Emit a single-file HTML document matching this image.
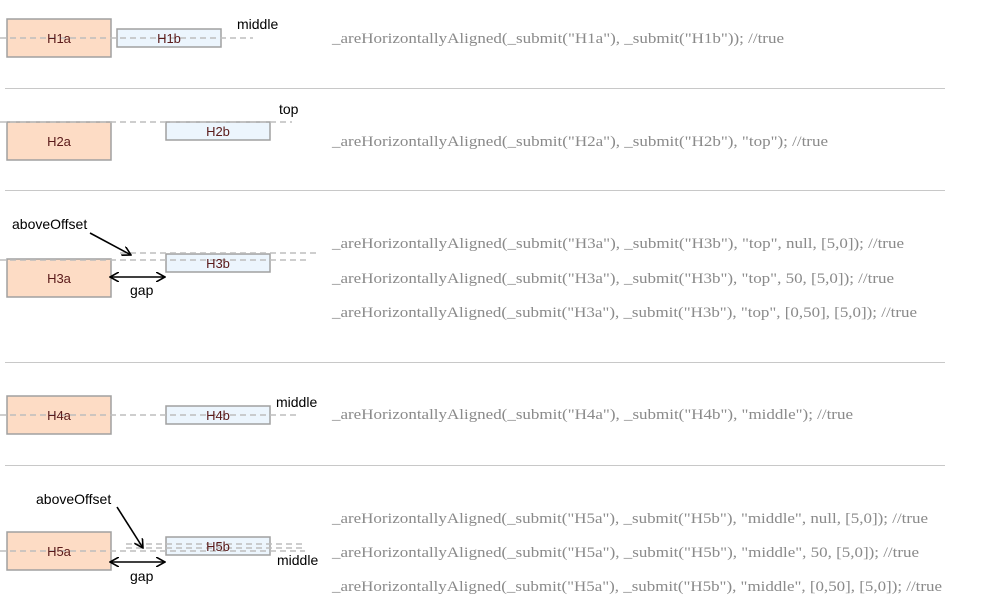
<!DOCTYPE html>
<html><head><meta charset="utf-8"><style>html,body{margin:0;padding:0;background:#fff}svg{display:block}</style></head>
<body>
<svg width="988" height="615" xmlns="http://www.w3.org/2000/svg">
<defs>
<marker id="ah" markerWidth="10" markerHeight="10" refX="9" refY="5" orient="auto-start-reverse" markerUnits="userSpaceOnUse"><path d="M0,0 L9,5 L0,10" fill="none" stroke="#000" stroke-width="1.6"/></marker>
</defs>
<g font-family="'Liberation Sans', sans-serif" font-size="13">
<!-- dividers -->
<g stroke="#c8c8c8" stroke-width="1">
<line x1="5" y1="88.5" x2="945" y2="88.5"/><line x1="5" y1="190.5" x2="945" y2="190.5"/>
<line x1="5" y1="362.5" x2="945" y2="362.5"/><line x1="5" y1="465.5" x2="945" y2="465.5"/>
</g>
<!-- boxes -->
<g stroke="#a0a0a0" stroke-width="1.5">
<rect x="7" y="19" width="104" height="38" fill="#fddcc5"/>
<rect x="117" y="29" width="104" height="18" fill="#ecf5fd"/>
<rect x="7" y="122" width="104" height="38" fill="#fddcc5"/>
<rect x="166" y="122" width="104" height="18" fill="#ecf5fd"/>
<rect x="7" y="259" width="104" height="38" fill="#fddcc5"/>
<rect x="166" y="254" width="104" height="18" fill="#ecf5fd"/>
<rect x="7" y="396" width="104" height="38" fill="#fddcc5"/>
<rect x="166" y="406" width="104" height="18" fill="#ecf5fd"/>
<rect x="7" y="532" width="104" height="38" fill="#fddcc5"/>
<rect x="166" y="537" width="104" height="18" fill="#ecf5fd"/>
</g>
<!-- dashed -->
<g stroke="#bdbdbd" stroke-width="1.5" stroke-dasharray="6,4">
<line x1="0" y1="38" x2="253" y2="38"/>
<line x1="0" y1="122" x2="292" y2="122"/>
<line x1="120" y1="253" x2="316" y2="253"/>
<line x1="0" y1="260" x2="306" y2="260"/>
<line x1="0" y1="415" x2="300" y2="415"/>
<line x1="0" y1="551" x2="305" y2="551"/>
<line x1="126" y1="544" x2="305" y2="544"/>
<line x1="126" y1="548" x2="305" y2="548"/>
</g>
<!-- box labels -->
<g fill="#5a1a1a" text-anchor="middle">
<text x="59" y="43">H1a</text><text x="169" y="43">H1b</text>
<text x="59" y="146">H2a</text><text x="218" y="136">H2b</text>
<text x="59" y="283">H3a</text><text x="218" y="268">H3b</text>
<text x="59" y="420">H4a</text><text x="218" y="420">H4b</text>
<text x="59" y="556">H5a</text><text x="218" y="551">H5b</text>
</g>
<g fill="#000" font-size="14">
<text x="237" y="29">middle</text>
<text x="279" y="114">top</text>
<text x="12" y="229">aboveOffset</text>
<text x="130" y="295">gap</text>
<text x="276" y="407">middle</text>
<text x="36" y="504">aboveOffset</text>
<text x="130" y="581">gap</text>
<text x="277" y="565">middle</text>
</g>
<g stroke="#000" stroke-width="1.6" fill="none">
<line x1="90" y1="233" x2="131" y2="255" marker-end="url(#ah)"/>
<line x1="110" y1="277" x2="165" y2="277" marker-start="url(#ah)" marker-end="url(#ah)"/>
<line x1="117" y1="507" x2="143" y2="548" marker-end="url(#ah)"/>
<line x1="110" y1="562" x2="165" y2="562" marker-start="url(#ah)" marker-end="url(#ah)"/>
</g>
</g>
<g font-family="'Liberation Serif', serif" font-size="15" fill="#8a8a8a" lengthAdjust="spacingAndGlyphs">
<text x="332" y="43" textLength="452" lengthAdjust="spacingAndGlyphs">_areHorizontallyAligned(_submit("H1a"), _submit("H1b")); //true</text>
<text x="332" y="146" textLength="496" lengthAdjust="spacingAndGlyphs">_areHorizontallyAligned(_submit("H2a"), _submit("H2b"), "top"); //true</text>
<text x="332" y="248" textLength="572" lengthAdjust="spacingAndGlyphs">_areHorizontallyAligned(_submit("H3a"), _submit("H3b"), "top", null, [5,0]); //true</text>
<text x="332" y="283" textLength="562" lengthAdjust="spacingAndGlyphs">_areHorizontallyAligned(_submit("H3a"), _submit("H3b"), "top", 50, [5,0]); //true</text>
<text x="332" y="317" textLength="585" lengthAdjust="spacingAndGlyphs">_areHorizontallyAligned(_submit("H3a"), _submit("H3b"), "top", [0,50], [5,0]); //true</text>
<text x="332" y="419" textLength="521" lengthAdjust="spacingAndGlyphs">_areHorizontallyAligned(_submit("H4a"), _submit("H4b"), "middle"); //true</text>
<text x="332" y="523" textLength="596" lengthAdjust="spacingAndGlyphs">_areHorizontallyAligned(_submit("H5a"), _submit("H5b"), "middle", null, [5,0]); //true</text>
<text x="332" y="557" textLength="587" lengthAdjust="spacingAndGlyphs">_areHorizontallyAligned(_submit("H5a"), _submit("H5b"), "middle", 50, [5,0]); //true</text>
<text x="332" y="591" textLength="610" lengthAdjust="spacingAndGlyphs">_areHorizontallyAligned(_submit("H5a"), _submit("H5b"), "middle", [0,50], [5,0]); //true</text>
</g>
</svg>
</body></html>
